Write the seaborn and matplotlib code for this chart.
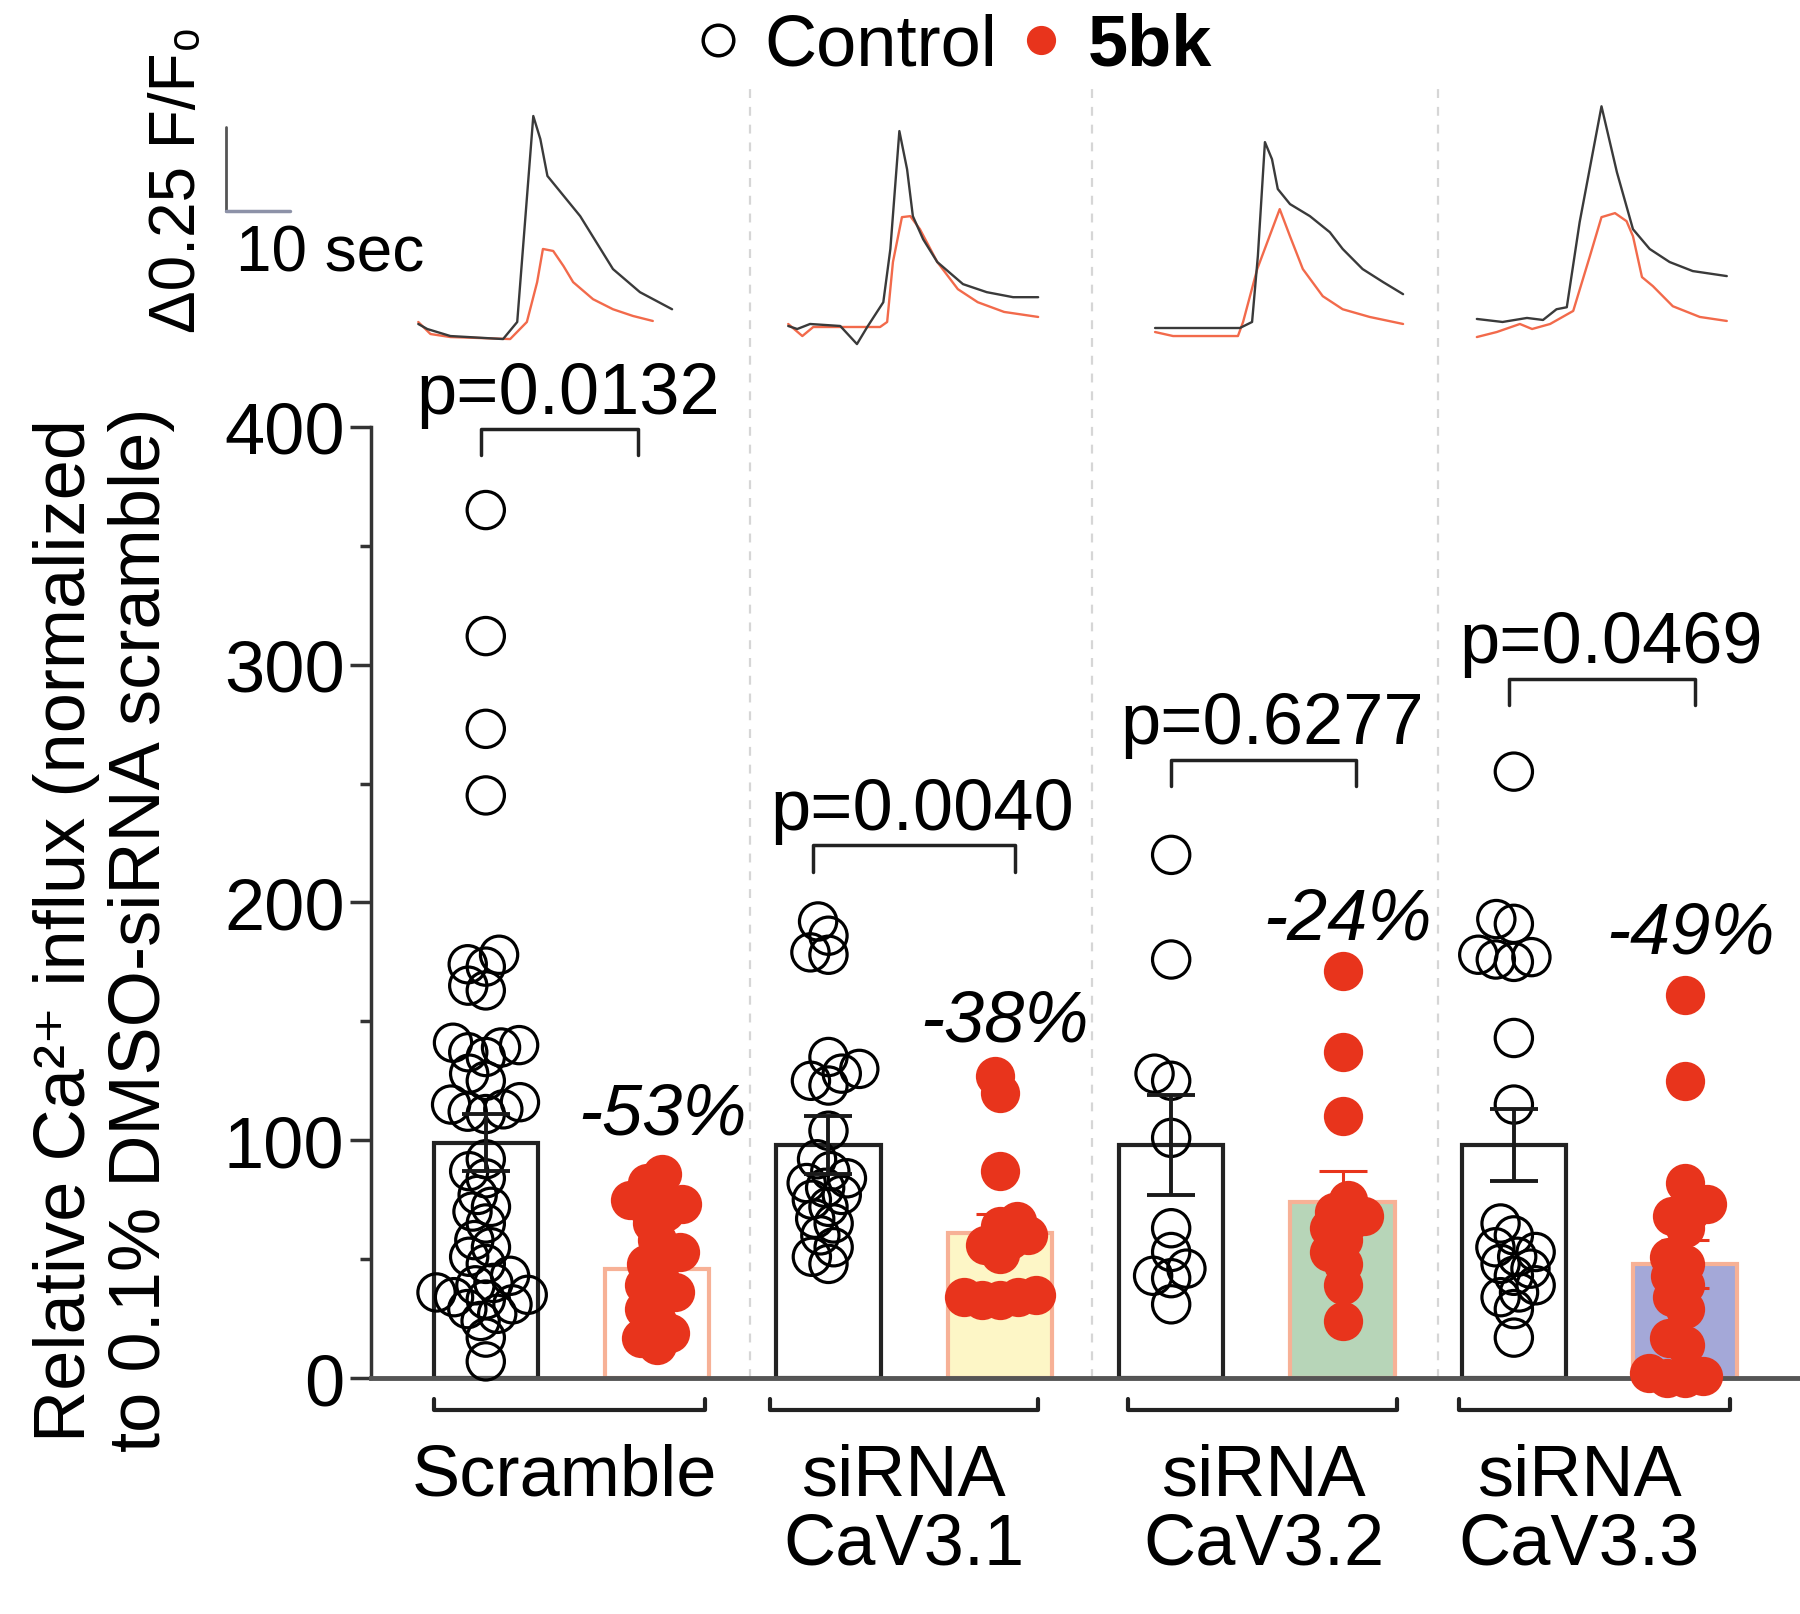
import numpy as np
import pandas as pd
import seaborn as sns
import matplotlib.pyplot as plt
from matplotlib.lines import Line2D
from matplotlib.ticker import MultipleLocator

# ---- data -------------------------------------------------------------
groups = ["Scramble", "siRNA\nCaV3.1", "siRNA\nCaV3.2", "siRNA\nCaV3.3"]
conditions = ["Control", "5bk"]

# single cells, relative Ca2+ influx (% of 0.1% DMSO / siRNA scramble)
scr_ctrl = [365, 312, 273, 245, 178, 174, 173, 165, 163, 141, 140, 139, 137,
            135, 128, 125, 116, 115, 113, 112, 111, 92, 87, 84, 77, 72, 70, 65,
            58, 55, 51, 48, 43, 40, 39, 36, 35, 34, 33, 31, 29, 27, 24, 17, 7]
scr_5bk = [86, 82, 77, 75, 73, 72, 70, 65, 58, 53, 51, 48, 43, 39, 36, 34,
           29, 24, 19, 17, 14]
cav31_ctrl = [192, 186, 179, 178, 135, 130, 128, 125, 123, 104, 92, 87, 84,
              82, 80, 77, 75, 72, 67, 65, 60, 55, 51, 48]
cav31_5bk = [127, 120, 87, 66, 64, 60, 58, 56, 52, 35, 34, 34, 33, 33]
cav32_ctrl = [220, 176, 128, 125, 101, 63, 53, 46, 43, 42, 31]
cav32_5bk = [171, 137, 110, 75, 70, 68, 65, 63, 58, 53, 48, 39, 24]
cav33_ctrl = [255, 193, 191, 178, 177, 176, 175, 143, 115, 65, 60, 55, 53,
              51, 48, 46, 43, 39, 36, 34, 29, 17]
cav33_5bk = [161, 125, 82, 73, 70, 68, 63, 51, 48, 43, 39, 34, 29, 17, 14,
             2, 1, 0, 0]

bar_mean = [99, 46, 98, 61, 98, 74, 98, 48]
bar_sem = [12, 6, 12, 8, 21, 13, 15, 10]
pct_text = ["-53%", "-38%", "-24%", "-49%"]
p_text = ["p=0.0132", "p=0.0040", "p=0.6277", "p=0.0469"]

# representative Ca2+ traces: time (s) and F/F0
scr_t_ctrl = [0, 1.4, 5.0, 13.2, 15.4, 17.9, 19.0, 20.1, 25.2, 30.3, 34.5, 39.5]
scr_f_ctrl = [1.057, 1.042, 1.021, 1.012, 1.063, 1.678, 1.609, 1.499, 1.379,
              1.221, 1.152, 1.101]
scr_t_5bk = [0, 1.9, 5.0, 14.3, 16.9, 18.5, 19.4, 21.0, 22.6, 24.1, 27.2,
             30.3, 33.4, 36.5]
scr_f_5bk = [1.063, 1.027, 1.018, 1.012, 1.063, 1.182, 1.281, 1.275, 1.230,
             1.182, 1.131, 1.101, 1.081, 1.066]
cav31_t_ctrl = [0, 1.4, 3.4, 8.1, 10.7, 12.3, 14.8, 15.9, 17.3, 18.5, 19.4,
                21.0, 23.2, 27.2, 30.9, 35.0, 38.9]
cav31_f_ctrl = [1.051, 1.042, 1.057, 1.051, 0.997, 1.048, 1.122, 1.281, 1.633,
                1.519, 1.379, 1.310, 1.242, 1.176, 1.152, 1.137, 1.137]
cav31_t_5bk = [0, 2.2, 3.9, 7.6, 14.3, 15.4, 16.3, 17.7, 19.0, 20.5, 23.2,
               26.4, 29.5, 33.6, 38.9]
cav31_f_5bk = [1.057, 1.021, 1.048, 1.048, 1.048, 1.063, 1.242, 1.376, 1.379,
               1.340, 1.242, 1.161, 1.122, 1.093, 1.078]
cav32_t_ctrl = [0, 13.2, 15.1, 16.0, 17.1, 18.2, 19.1, 21.0, 24.1, 27.2, 29.2,
                32.3, 35.5, 38.6]
cav32_f_ctrl = [1.045, 1.045, 1.063, 1.260, 1.600, 1.549, 1.460, 1.415, 1.379,
                1.331, 1.281, 1.221, 1.182, 1.146]
cav32_t_5bk = [0, 2.8, 12.9, 13.7, 15.9, 19.4, 21.0, 23.0, 26.1, 29.2, 33.4, 38.6]
cav32_f_5bk = [1.033, 1.021, 1.021, 1.063, 1.221, 1.400, 1.319, 1.221, 1.140,
               1.101, 1.078, 1.057]
cav33_t_ctrl = [0, 4.0, 7.8, 10.3, 12.4, 14.0, 16.0, 19.4, 21.8, 24.3, 26.9,
                30.0, 33.6, 38.9]
cav33_f_ctrl = [1.072, 1.063, 1.075, 1.069, 1.101, 1.107, 1.361, 1.707, 1.510,
                1.340, 1.281, 1.242, 1.215, 1.200]
cav33_t_5bk = [0, 3.1, 6.7, 8.6, 11.4, 15.0, 17.6, 19.4, 21.5, 23.3, 24.3,
               25.7, 27.4, 30.5, 34.7, 38.9]
cav33_f_5bk = [1.018, 1.033, 1.057, 1.042, 1.057, 1.096, 1.260, 1.376, 1.388,
               1.364, 1.319, 1.197, 1.170, 1.110, 1.078, 1.066]

# ---- style ------------------------------------------------------------
sns.set_style("ticks")
plt.rcParams["font.family"] = ["Liberation Sans", "DejaVu Sans"]
plt.rcParams["text.color"] = "black"
plt.rcParams["axes.labelcolor"] = "black"
plt.rcParams["ytick.color"] = "black"
plt.rcParams["xtick.color"] = "black"

RED = "#e8341c"
TRACE_RED = "#f26a4b"
bar_fill = ["white", "white", "white", "#fdf6c6", "white", "#b7d5b8", "white", "#a4a8d8"]
bar_edge = ["#222222", "#f7b196"] * 4
FS = 52

order = [f"{g}|{c}" for g in groups for c in conditions]
cell_lists = [scr_ctrl, scr_5bk, cav31_ctrl, cav31_5bk,
              cav32_ctrl, cav32_5bk, cav33_ctrl, cav33_5bk]
cells = pd.DataFrame({
    "cond": np.repeat(order, [len(v) for v in cell_lists]),
    "value": np.concatenate(cell_lists),
})
bars = pd.DataFrame({"cond": order, "mean": bar_mean, "sem": bar_sem})

fig = plt.figure(figsize=(18, 16.15), dpi=100)
ax = fig.add_axes([0.2061, 0.1461, 0.7939, 0.589])
ax_tr = fig.add_axes([0.2061, 0.777, 0.7939, 0.1858])

# bars
sns.barplot(data=bars, x="cond", y="mean", hue="cond", order=order,
            hue_order=order, palette=bar_fill, saturation=1, width=0.61,
            errorbar=None, legend=False, ax=ax, zorder=1)
for patch, ec in zip(ax.patches, bar_edge):
    patch.set_edgecolor(ec)
    patch.set_linewidth(3)

# dots (swarm layout with small markers, drawn larger afterwards)
n0 = len(ax.collections)
sns.swarmplot(data=cells, x="cond", y="value", order=order, size=12.5,
              color="black", ax=ax, zorder=3, warn_thresh=1)
swarms = ax.collections[n0:]
swarm_idx = [int(round(c.get_offsets()[0, 0])) for c in swarms]

# error bars
pos = np.arange(len(order))
ax.errorbar(pos[0::2], bars["mean"][0::2], yerr=bars["sem"][0::2], fmt="none",
            ecolor="#1a1a1a", elinewidth=2.8, capsize=17, capthick=2.8, zorder=4)
ax.errorbar(pos[1::2], bars["mean"][1::2], yerr=bars["sem"][1::2], fmt="none",
            ecolor=RED, elinewidth=2.2, capsize=17, capthick=2.2, zorder=4)

ax.set_xlim(-0.67, 7.67)
ax.set_ylim(0, 400)
ax.set_yticks([0, 100, 200, 300, 400])
ax.yaxis.set_minor_locator(MultipleLocator(50))
ax.tick_params(axis="y", which="major", length=15, width=2.5, color="#333333",
               labelcolor="black", labelsize=FS, pad=4)
ax.tick_params(axis="y", which="minor", length=8, width=2.5, color="#333333")
ax.tick_params(axis="x", length=0, labelbottom=False)
ax.set_xlabel("")
ax.set_ylabel("")
sns.despine(ax=ax)
ax.spines["left"].set_linewidth(2.5)
ax.spines["left"].set_color("#333333")
ax.spines["bottom"].set_linewidth(3.5)
ax.spines["bottom"].set_color("#555555")
ax.patch.set_alpha(0)

# group separators
ax.vlines([1.54, 3.54, 5.555], 0, 542, colors="#d6d6d6", linestyles=(0, (4, 4)),
          linewidth=1.6, clip_on=False, zorder=0)

# significance brackets
br_left = [-0.03, 1.91, 4.0, 5.97]
br_right = [0.89, 3.09, 5.08, 7.06]
br_y = [399, 224, 260, 294]
for xl, xr, yb, txt in zip(br_left, br_right, br_y, p_text):
    ax.plot([xl, xl, xr, xr], [yb - 11, yb, yb, yb - 11], color="#222222",
            lw=2.5, clip_on=False)
    ax.text((xl + xr) / 2 + 0.05, yb + 7, txt, ha="center", va="baseline",
            fontsize=FS)

# percent change labels
pct_y = [111, 150, 193, 187]
for g, (txt, yy) in enumerate(zip(pct_text, pct_y)):
    ax.text(2 * g + 1.03, yy, txt, ha="center", va="center", fontsize=FS,
            fontstyle="italic")

# group brackets and labels under the axis
grp_left = [-0.30, 1.66, 3.75, 5.68]
grp_right = [1.28, 3.22, 5.32, 7.26]
grp_label_x = [0.46, 2.44, 4.54, 6.38]
for xl, xr, xt, lab in zip(grp_left, grp_right, grp_label_x, groups):
    ax.plot([xl, xl, xr, xr], [-8.8, -13.5, -13.5, -8.8], color="#222222",
            lw=3, clip_on=False)
    ax.text(xt, -27, lab, ha="center", va="top", fontsize=FS, linespacing=1.05)

fig.text(0.058, 0.424,
         "Relative Ca\u00b2\u207a influx (normalized\nto 0.1% DMSO-siRNA scramble)",
         rotation=90, ha="center", va="center", fontsize=FS,
         multialignment="center", linespacing=1.15)

# ---- traces -----------------------------------------------------------
ax_tr.set_xlim(ax.get_xlim())
ax_tr.set_ylim(0.952, 1.848)
ax_tr.axis("off")
sec = 0.0375  # x units per second
trace_start = [-0.394, 1.765, 3.906, 5.784]
traces = [(scr_t_ctrl, scr_f_ctrl, scr_t_5bk, scr_f_5bk),
          (cav31_t_ctrl, cav31_f_ctrl, cav31_t_5bk, cav31_f_5bk),
          (cav32_t_ctrl, cav32_f_ctrl, cav32_t_5bk, cav32_f_5bk),
          (cav33_t_ctrl, cav33_f_ctrl, cav33_t_5bk, cav33_f_5bk)]
for x0, (tc, fc, tb, fb) in zip(trace_start, traces):
    ax_tr.plot(x0 + np.array(tb) * sec, fb, color=TRACE_RED, lw=1.7)
    ax_tr.plot(x0 + np.array(tc) * sec, fc, color="#3a3a3a", lw=1.7)

# scale bar
sb_x, sb_y = -1.515, 1.394
ax_tr.plot([sb_x, sb_x], [sb_y, sb_y + 0.25], color="#555555", lw=2, clip_on=False)
ax_tr.plot([sb_x, sb_x + 10 * sec], [sb_y, sb_y], color="#8d92a8", lw=2.5,
           clip_on=False)
ax_tr.text(-1.46, 1.266, "10 sec", ha="left", va="center", fontsize=46)
ax_tr.text(-1.795, 1.49, "Δ0.25 F/F\u2080", rotation=90, ha="center",
           va="center", fontsize=46)

# legend
handles = [Line2D([], [], ls="none", marker="o", ms=22, mfc="none", mec="black",
                  mew=2.5),
           Line2D([], [], ls="none", marker="o", ms=20, mfc=RED, mec=RED)]
leg = fig.legend(handles, conditions, loc="center", bbox_to_anchor=(0.53, 0.971),
                 ncol=2, frameon=False, fontsize=FS, handlelength=0.6,
                 handletextpad=0.35, columnspacing=0.3)
for t in leg.get_texts():
    t.set_color("black")
leg.get_texts()[1].set_fontweight("bold")

# lay out the swarms, then freeze them and enlarge the markers
fig.canvas.draw()
for coll, k in zip(swarms, swarm_idx):
    if "draw" in coll.__dict__:
        del coll.draw
    coll.set_clip_on(False)
    if k % 2 == 0:
        coll.set_facecolor("none")
        coll.set_edgecolor("black")
        coll.set_linewidth(2.3)
        coll.set_sizes([720])
    else:
        coll.set_facecolor(RED)
        coll.set_edgecolor(RED)
        coll.set_linewidth(0)
        coll.set_sizes([800])

fig.savefig("out.png", dpi=100)
